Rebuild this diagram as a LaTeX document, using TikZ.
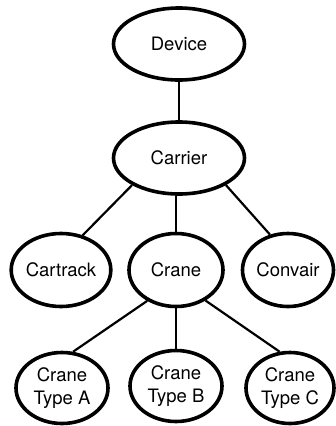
\documentclass[tikz,border=0pt]{standalone}
\usepackage{fontspec}
\setmainfont{TeX Gyre Heros}
\usetikzlibrary{shapes.geometric}
\begin{document}
\begin{tikzpicture}[x=1pt,y=-1pt,
  obj/.style={ellipse,draw=black,line width=3.6pt,inner sep=0pt,
    minimum width=#1,font=\fontsize{18.5}{23}\selectfont,align=center},
  obj/.default={96pt},
  link/.style={line width=2.2pt,black}]
\useasboundingbox[fill=white] (0,0) rectangle (336,426);
\node[obj=131pt,minimum height=72pt] (device)  at (179,44)  {Device};
\node[obj=131pt,minimum height=72pt] (carrier) at (179,158) {Carrier};
\node[obj=93pt,minimum height=73pt] (cartrack) at (61,270)  {Cartrack};
\node[obj=94pt,minimum height=73pt] (crane)    at (176,270) {Crane};
\node[obj=91pt,minimum height=73pt] (convair)  at (288,270) {Convair};
\node[obj=92pt,minimum height=71pt] (typea)    at (62,388)  {Crane\\Type A};
\node[obj=92pt,minimum height=71pt] (typeb)    at (176,386) {Crane\\Type B};
\node[obj=88pt,minimum height=71pt] (typec)    at (290,388) {Crane\\Type C};
\draw[link] (device) -- (carrier);
\draw[link] (carrier.-150) -- (cartrack.58);
\draw[link] (carrier.south -| crane) -- (crane);
\draw[link] (carrier.-30) -- (convair.117);
\draw[link] (crane.-133) -- (typea.73);
\draw[link] (crane.south) -- (typeb.north);
\draw[link] (crane.-46) -- (typec.106);
\end{tikzpicture}
\end{document}
